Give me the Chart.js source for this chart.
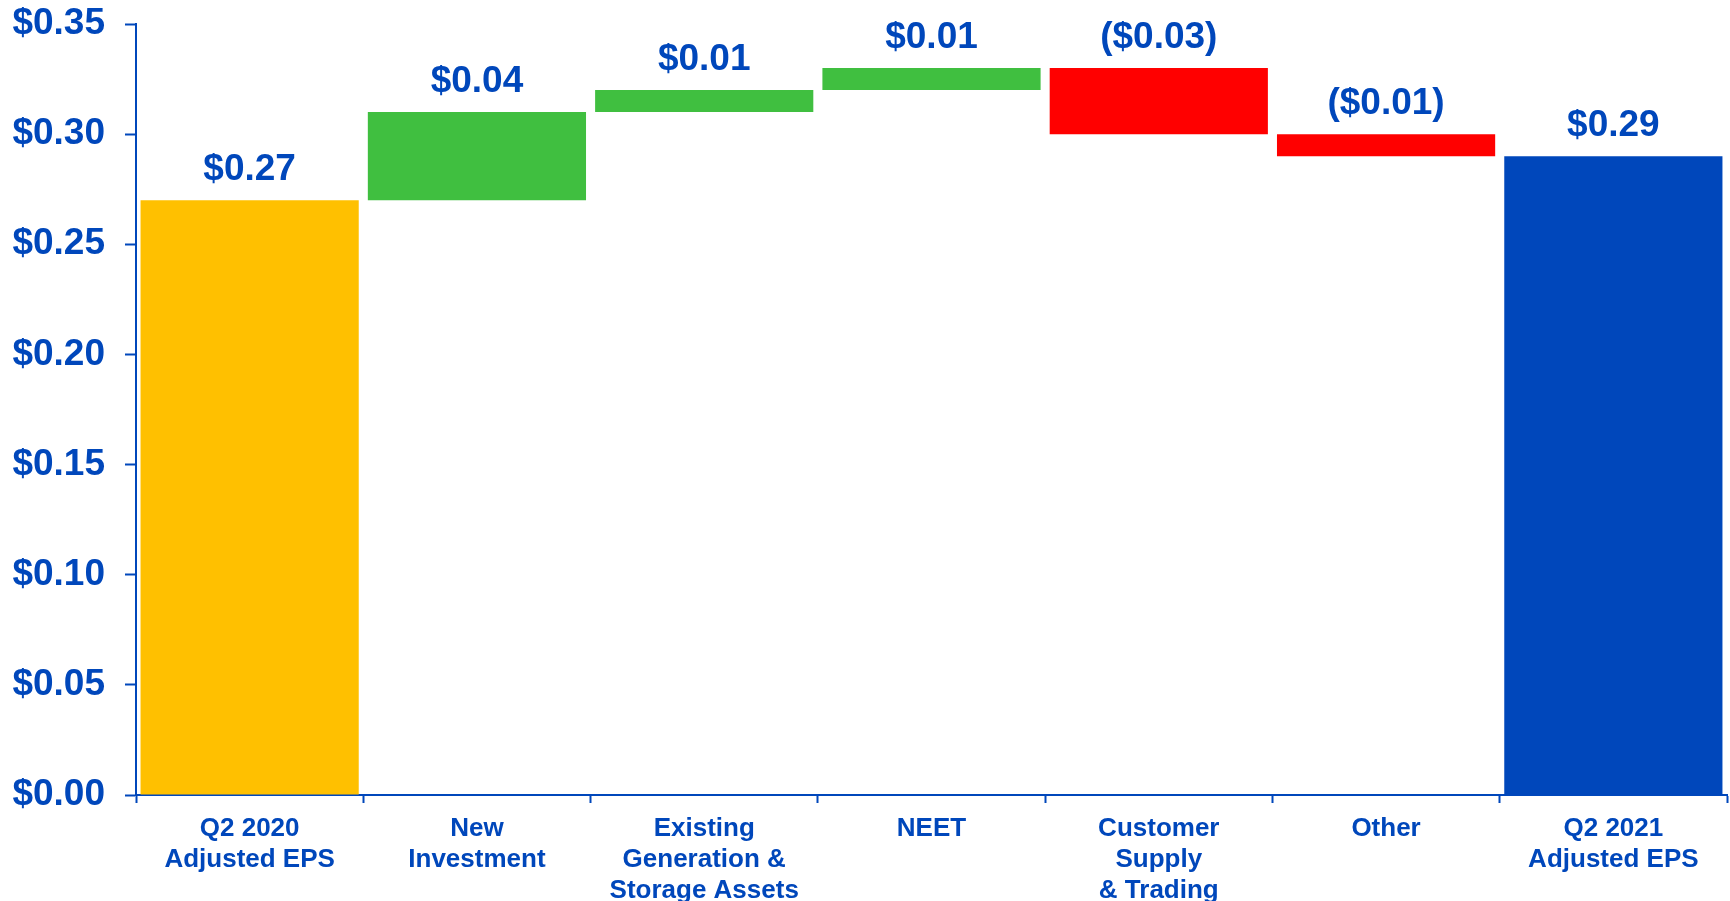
<!DOCTYPE html>
<html>
<head>
    <title>Q2 Adjusted EPS Bridge</title>
    <script src="https://cdn.jsdelivr.net/npm/chart.js"></script>
    <style>
        html, body { margin: 0; padding: 0; background: #fff; overflow: hidden; }
        #wrap { width: 1730px; height: 901px; }
    </style>
</head>
<body>
    <div id="wrap"><canvas id="epsChart" width="1730" height="901"></canvas></div>

    <script>
        // categories and values (bar start / bar end)
        const categories = [
            ['Q2 2020', 'Adjusted EPS'],
            ['New', 'Investment'],
            ['Existing', 'Generation &', 'Storage Assets'],
            ['NEET'],
            ['Customer', 'Supply', '& Trading'],
            ['Other'],
            ['Q2 2021', 'Adjusted EPS']
        ];
        const barStart = [0, 0.27, 0.31, 0.32, 0.33, 0.30, 0];
        const barEnd = [0.27, 0.31, 0.32, 0.33, 0.30, 0.29, 0.29];
        const valueLabels = ['$0.27', '$0.04', '$0.01', '$0.01', '($0.03)', '($0.01)', '$0.29'];
        const barColors = ['#FFC000', '#40BF40', '#40BF40', '#40BF40', '#FF0000', '#FF0000', '#0047BB'];
        const yTicks = [0, 0.05, 0.10, 0.15, 0.20, 0.25, 0.30, 0.35];

        const blue = '#0047BB';
        const fontFamily = '"Liberation Sans", Arial, sans-serif';

        // label over each bar
        const valueLabelPlugin = {
            id: 'valueLabels',
            afterDatasetsDraw(chart) {
                const ctx = chart.ctx;
                const meta = chart.getDatasetMeta(0);
                const yScale = chart.scales.y;
                ctx.save();
                ctx.fillStyle = blue;
                ctx.font = 'bold 37px ' + fontFamily;
                ctx.textAlign = 'center';
                ctx.textBaseline = 'bottom';
                meta.data.forEach((bar, i) => {
                    const top = Math.max(barStart[i], barEnd[i]);
                    const y = yScale.getPixelForValue(top) - 12;
                    ctx.fillText(valueLabels[i], bar.x, y);
                });
                ctx.restore();
            }
        };

        const ctx = document.getElementById('epsChart').getContext('2d');
        const chart = new Chart(ctx, {
            type: 'bar',
            data: {
                labels: categories,
                datasets: [{
                    data: barStart.map((s, i) => [s, barEnd[i]]),
                    backgroundColor: barColors,
                    borderWidth: 0,
                    barPercentage: 0.96,
                    categoryPercentage: 1.0
                }]
            },
            options: {
                responsive: false,
                animation: false,
                layout: { padding: { top: 24, right: 3, left: 0, bottom: 0 } },
                plugins: {
                    legend: { display: false },
                    tooltip: { enabled: false }
                },
                scales: {
                    x: {
                        grid: {
                            display: true,
                            drawOnChartArea: false,
                            drawTicks: true,
                            tickLength: 8,
                            tickWidth: 2,
                            color: blue,
                            offset: true
                        },
                        border: { display: true, color: blue, width: 2 },
                        ticks: {
                            color: blue,
                            padding: 10,
                            maxRotation: 0,
                            autoSkip: false,
                            font: { family: fontFamily, size: 26, weight: 'bold', lineHeight: 1.2 }
                        },
                        afterFit(scale) {
                            scale.height = 106;
                            scale.paddingLeft = 0;
                            scale.paddingRight = 0;
                        }
                    },
                    y: {
                        min: 0,
                        max: 0.35,
                        afterBuildTicks(scale) {
                            scale.ticks = yTicks.map(v => ({ value: v }));
                        },
                        grid: {
                            display: true,
                            drawOnChartArea: false,
                            drawTicks: true,
                            tickLength: 11,
                            tickWidth: 2,
                            color: blue
                        },
                        border: { display: true, color: blue, width: 2 },
                        ticks: {
                            color: blue,
                            padding: 20,
                            font: { family: fontFamily, size: 37, weight: 'bold' },
                            callback: v => '$' + Number(v).toFixed(2)
                        },
                        afterFit(scale) {
                            scale.width = 136;
                            scale.paddingTop = 0;
                            scale.paddingBottom = 0;
                        }
                    }
                }
            },
            plugins: [valueLabelPlugin]
        });
    </script>
</body>
</html>
